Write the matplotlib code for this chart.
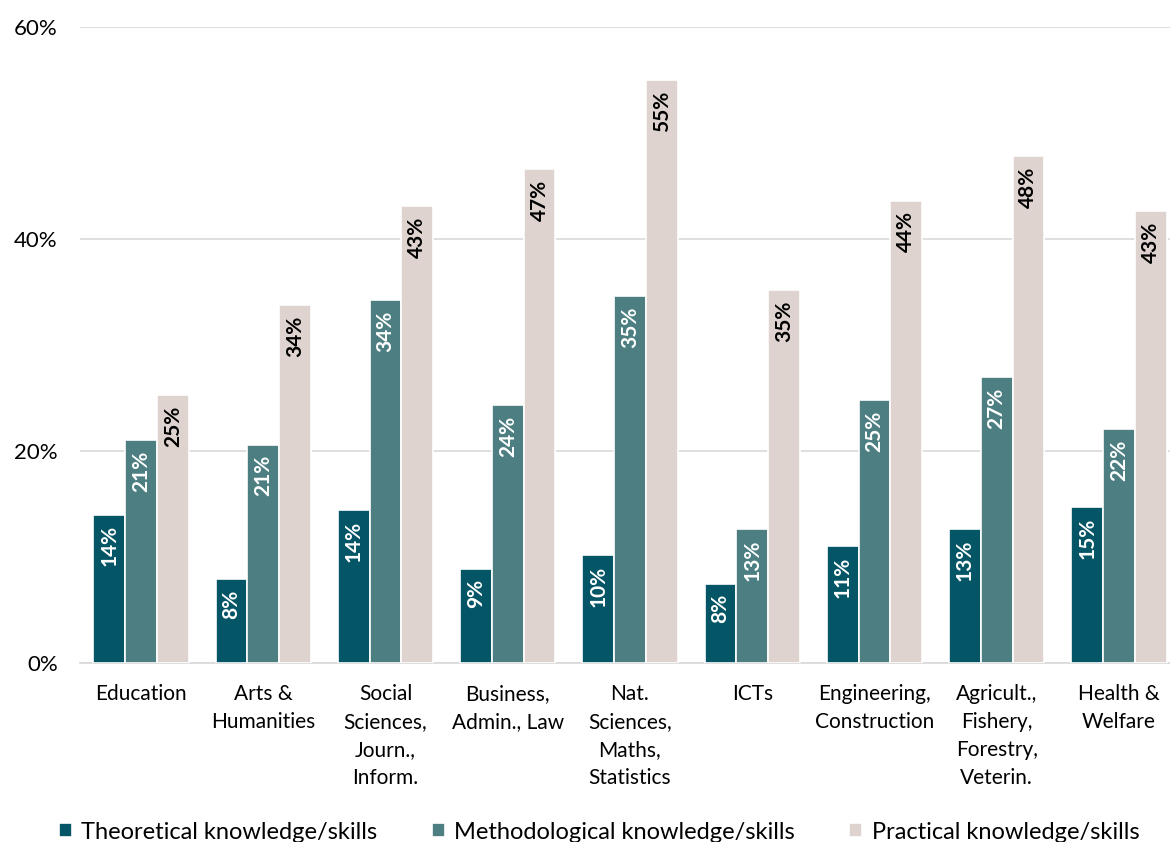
import matplotlib
matplotlib.use('Agg')
import matplotlib.pyplot as plt
import numpy as np

# Kategoriler ve seriler
categories = ['Education', 'Arts &\nHumanities', 'Social\nSciences,\nJourn.,\nInform.',
              'Business,\nAdmin., Law', 'Nat.\nSciences,\nMaths,\nStatistics', 'ICTs',
              'Engineering,\nConstruction', 'Agricult.,\nFishery,\nForestry,\nVeterin.',
              'Health &\nWelfare']
theoretical = [14.0, 7.9, 14.4, 8.9, 10.2, 7.5, 11.0, 12.6, 14.7]
methodological = [21.0, 20.6, 34.2, 24.3, 34.6, 12.6, 24.8, 27.0, 22.1]
practical = [25.3, 33.8, 43.1, 46.6, 55.0, 35.2, 43.6, 47.8, 42.6]
series_names = ['Theoretical knowledge/skills', 'Methodological knowledge/skills',
                'Practical knowledge/skills']
yticks = [0, 20, 40, 60]

colors = ['#045566', '#4D7F82', '#DED3CF']
label_colors = ['white', 'white', 'black']

plt.rcParams['font.family'] = ['Lato', 'DejaVu Sans']

fig = plt.figure(figsize=(11.7, 8.42), dpi=100)
ax = fig.add_axes([80 / 1170, 1 - 663 / 842, 1100 / 1170, (663 - 27) / 842])

x = np.arange(len(categories))
w = 0.26
for i, vals in enumerate([theoretical, methodological, practical]):
    bars = ax.bar(x + (i - 1) * w, vals, w, color=colors[i], edgecolor='white',
                  linewidth=1.2, label=series_names[i], zorder=3)
    for b, v in zip(bars, vals):
        ax.text(b.get_x() + b.get_width() / 2, v - 1.0, f'{v:.0f}%', rotation=90,
                ha='center', va='top', fontsize=15, fontweight='bold',
                color=label_colors[i], zorder=4)

ax.set_xlim(-0.5, len(categories) - 0.5)
ax.set_ylim(0, 60)
ax.set_yticks(yticks)
ax.set_yticklabels([f'{t}%' for t in yticks], fontsize=16)
ax.set_xticks(x)
ax.set_xticklabels(categories, fontsize=15, va='top', linespacing=1.5)
ax.tick_params(axis='x', length=0, pad=15)
ax.tick_params(axis='y', length=0, pad=16)
ax.grid(axis='y', color='#D9D9D9', linewidth=1.2, zorder=0)
for s in ['top', 'right', 'left']:
    ax.spines[s].set_visible(False)
ax.spines['bottom'].set_color('#D9D9D9')
ax.spines['bottom'].set_linewidth(1.2)

leg = fig.legend(loc='lower center', bbox_to_anchor=(0.512, -0.026), ncol=3, frameon=False,
                 fontsize=17, handlelength=0.55, handleheight=0.55, handletextpad=0.4,
                 columnspacing=2.3)

fig.savefig('out.png', dpi=100)
